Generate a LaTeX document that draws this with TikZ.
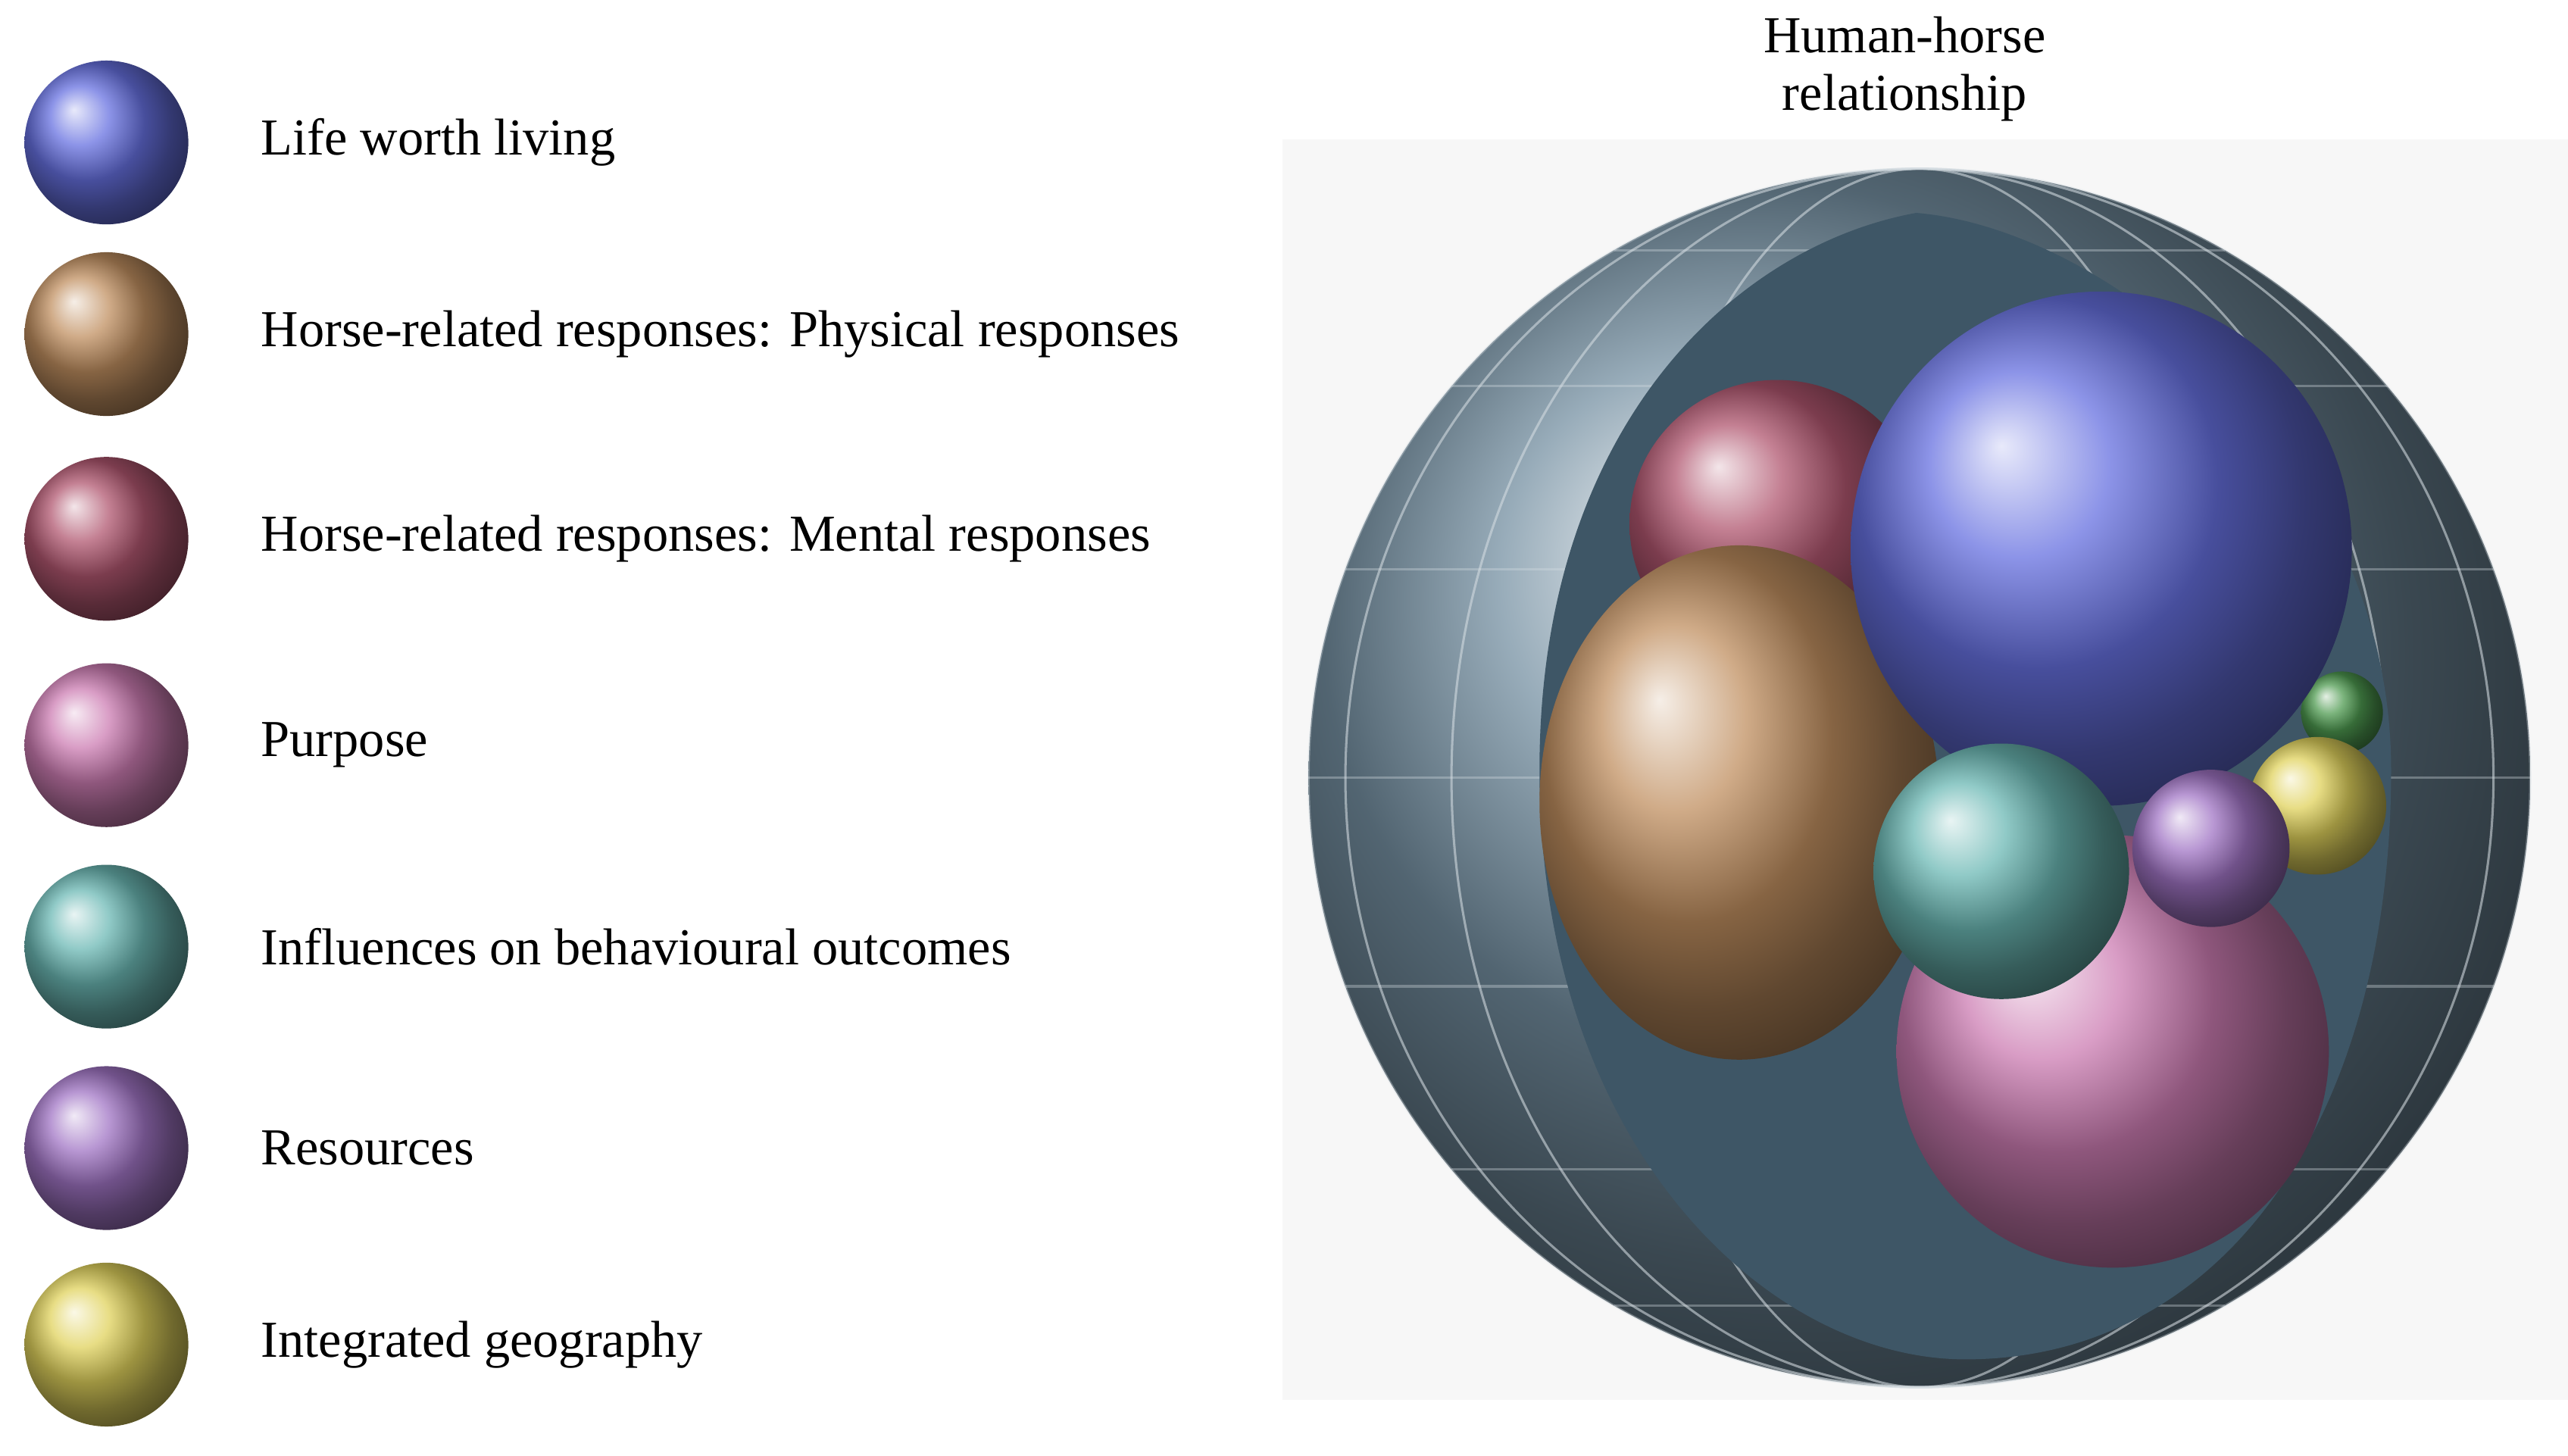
\documentclass[tikz,border=0pt]{standalone}
\usepackage{fontspec}
\setmainfont{Liberation Serif}
\begin{document}
\begin{tikzpicture}[x=0.01cm,y=-0.01cm,
  lab/.style={anchor=west,font=\fontsize{9}{11}\selectfont},
  leg/.style={circle,minimum size=1cm,inner sep=0pt}]
\useasboundingbox (0,0) rectangle (1568,889);
\fill[gray!6] (783,85) rectangle (1568,855);
\definecolor{cblue}{HTML}{6670E0}
\definecolor{corange}{HTML}{C08F60}
\definecolor{cred}{HTML}{B0566F}
\definecolor{cpink}{HTML}{CC7CB2}
\definecolor{cteal}{HTML}{6BB8B4}
\definecolor{cpurple}{HTML}{A074C4}
\definecolor{cyellow}{HTML}{E0D25C}
\definecolor{cgreen}{HTML}{4E9A50}
\definecolor{cshell}{HTML}{7590A2}
\definecolor{cinner}{HTML}{3E5666}
% legend
\foreach \y/\c/\t [count=\i] in {87/cblue/Life worth living,204/corange/Horse-related responses: Physical responses,329/cred/Horse-related responses: Mental responses,455/cpink/Purpose,578/cteal/Influences on behavioural outcomes,701/cpurple/Resources,821/cyellow/Integrated geography}{
  \shade[ball color=\c] (65,\y) circle (50);
  \node[lab] (t\i) at (147,\y) {\t};
}
% title
\node[align=center,font=\fontsize{9}{10}\selectfont] (title) at (1163,42) {Human-horse\\relationship};
% outer sphere
\shade[ball color=cshell] (1172,475) ellipse (373 and 372);
\foreach \a in {-60,-40,-20,0,20,40,60}
  \draw[white!70!cshell,opacity=.35] (1172,475) ellipse ({373*cos(\a)} and 372);
\foreach \b in {-60,-40,-20,0,20,40,60}
  \draw[white!70!cshell,opacity=.35] (1172-373*cos \b,475+372*sin \b) -- (1172+373*cos \b,475+372*sin \b);
% cut opening
\fill[cinner] (1170,130) .. controls (1060,150) and (940,260) .. (940,470)
  .. controls (940,700) and (1080,830) .. (1200,830)
  .. controls (1360,830) and (1460,680) .. (1460,470)
  .. controls (1460,280) and (1290,140) .. (1170,130) -- cycle;
% inner spheres
\shade[ball color=cred] (1085,320) ellipse (90 and 88);
\shade[ball color=corange] (1062,490) ellipse (122 and 157);
\shade[ball color=cgreen] (1430,435) circle (25);
\shade[ball color=cblue] (1283,335) ellipse (153 and 157);
\shade[ball color=cpink] (1290,642) circle (132);
\shade[ball color=cyellow] (1415,492) circle (42);
\shade[ball color=cpurple] (1350,518) circle (48);
\shade[ball color=cteal] (1222,532) circle (78);
\end{tikzpicture}
\end{document}
